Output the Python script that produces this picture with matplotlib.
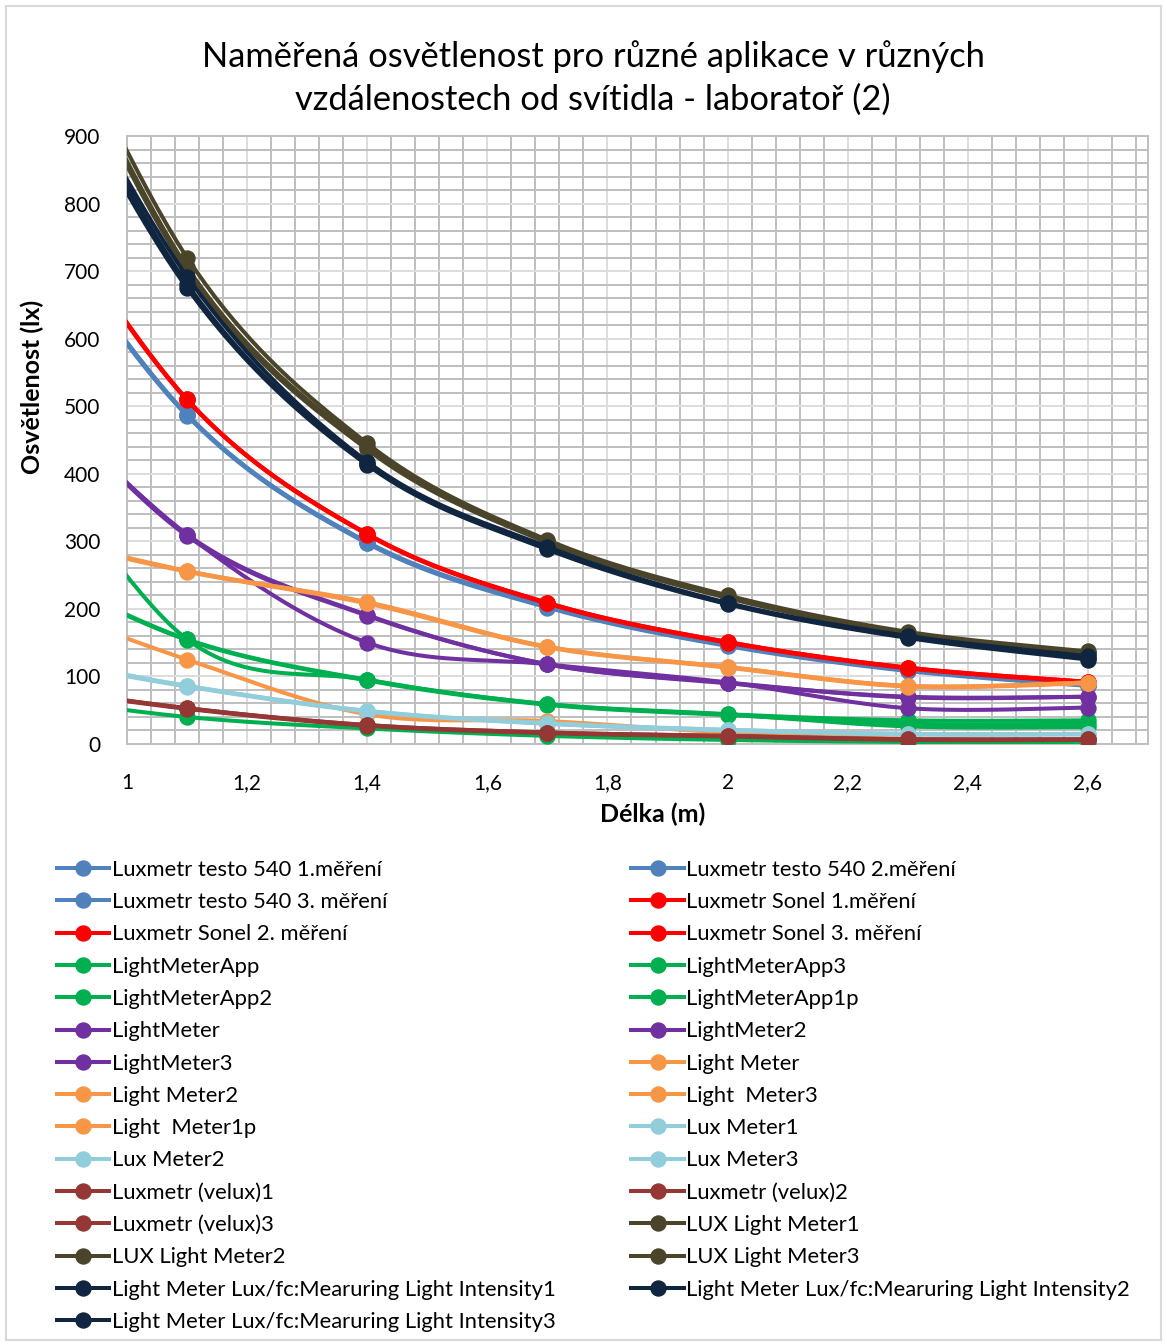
import numpy as np
import matplotlib
matplotlib.use("Agg")
import matplotlib.pyplot as plt
from matplotlib.lines import Line2D
from matplotlib.patches import Rectangle
from matplotlib.ticker import MultipleLocator, FuncFormatter

plt.rcParams['font.family'] = ['Lato', 'DejaVu Sans']

# vzdálenost od svítidla (m); bod 0,8 leží mimo osu (odhad z průběhu křivky u 1,0)
delka = [0.8, 1.1, 1.4, 1.7, 2.0, 2.3, 2.6]

names = [
    "Luxmetr testo 540 1.měření", "Luxmetr testo 540 2.měření", "Luxmetr testo 540 3. měření",
    "Luxmetr Sonel 1.měření", "Luxmetr Sonel 2. měření", "Luxmetr Sonel 3. měření",
    "LightMeterApp", "LightMeterApp3", "LightMeterApp2", "LightMeterApp1p",
    "LightMeter", "LightMeter2", "LightMeter3",
    "Light Meter", "Light Meter2", "Light  Meter3", "Light  Meter1p",
    "Lux Meter1", "Lux Meter2", "Lux Meter3",
    "Luxmetr (velux)1", "Luxmetr (velux)2", "Luxmetr (velux)3",
    "LUX Light Meter1", "LUX Light Meter2", "LUX Light Meter3",
    "Light Meter Lux/fc:Mearuring Light Intensity1",
    "Light Meter Lux/fc:Mearuring Light Intensity2",
    "Light Meter Lux/fc:Mearuring Light Intensity3",
]

testo1 = [844, 487, 298, 203, 146, 109, 87]
testo2 = [839, 486, 297, 202, 145, 108, 86]
testo3 = [845, 488, 299, 204, 147, 110, 88]
sonel1 = [891, 510, 311, 209, 151, 113, 92]
sonel2 = [886, 509, 310, 208, 150, 112, 91]
sonel3 = [888, 510, 311, 209, 151, 113, 92]
lma = [498, 155, 95, 59, 44, 35, 35]
lma3 = [278, 155, 95, 59, 44, 26, 25]
lma2 = [276, 154, 94, 58, 43, 30, 30]
lma1p = [74, 40, 23, 12, 6, 3, 3]
lm = [571, 310, 191, 118, 91, 69, 70]
lm2 = [559, 310, 150, 118, 91, 53, 54]
lm3 = [569, 308, 190, 118, 90, 70, 70]
light_m = [320, 256, 210, 144, 114, 86, 91]
light_m2 = [315, 255, 208, 143, 113, 85, 90]
light_m3 = [316, 256, 209, 144, 114, 86, 91]
light_m1p = [222, 125, 44, 34, 17, 8, 6]
lux1 = [134, 86, 49, 30, 21, 15, 15]
lux2 = [133, 85, 48, 30, 20, 14, 14]
lux3 = [138, 86, 49, 31, 21, 15, 15]
velux1 = [89, 53, 28, 17, 12, 7, 7]
velux2 = [88, 52, 27, 16, 11, 6, 6]
velux3 = [89, 53, 28, 17, 12, 7, 7]
luxlm1 = [1250, 720, 445, 302, 220, 166, 137]
luxlm2 = [1235, 706, 440, 300, 218, 164, 135]
luxlm3 = [1225, 700, 436, 298, 216, 163, 134]
fc1 = [1168, 692, 418, 292, 209, 160, 130]
fc2 = [1163, 681, 415, 290, 208, 158, 127]
fc3 = [1143, 675, 413, 288, 207, 157, 125]

values = [testo1, testo2, testo3, sonel1, sonel2, sonel3, lma, lma3, lma2, lma1p,
          lm, lm2, lm3, light_m, light_m2, light_m3, light_m1p, lux1, lux2, lux3,
          velux1, velux2, velux3, luxlm1, luxlm2, luxlm3, fc1, fc2, fc3]

BLUE, RED, GREEN, PURPLE = '#4F81BD', '#FF0000', '#00B050', '#7030A0'
ORANGE, LBLUE, BROWN, OLIVE, NAVY = '#F79646', '#92CDDC', '#953735', '#4A452A', '#10253F'
colors = [BLUE]*3 + [RED]*3 + [GREEN]*4 + [PURPLE]*3 + [ORANGE]*4 + [LBLUE]*3 + \
         [BROWN]*3 + [OLIVE]*3 + [NAVY]*3


def smooth(x, y, n=40):
    # Excel-like smoothed line: cubic Bezier with tangent (P[i+1]-P[i-1])/6
    pts = np.column_stack([x, y]).astype(float)
    out = [pts[0]]
    t = np.linspace(0, 1, n)[1:, None]
    for i in range(len(pts) - 1):
        p0 = pts[i - 1] if i > 0 else pts[i]
        p1, p2 = pts[i], pts[i + 1]
        p3 = pts[i + 2] if i + 2 < len(pts) else pts[i + 1]
        c1 = p1 + (p2 - p0) / 6
        c2 = p2 - (p3 - p1) / 6
        seg = (1-t)**3*p1 + 3*(1-t)**2*t*c1 + 3*(1-t)*t**2*c2 + t**3*p2
        out.extend(seg)
    return np.array(out)


W, H = 1167, 1344
fig = plt.figure(figsize=(W/100, H/100), dpi=100)
ax = fig.add_axes([127/W, 1-744/H, (1148-127)/W, (744-136)/H])

lw, ms = 2.9, 10.8
handles = []
for k, (name, vals, c) in enumerate(zip(names, values, colors)):
    cur = smooth(delka, vals)
    ax.plot(cur[:, 0], cur[:, 1], color=c, lw=lw, zorder=3+k, solid_capstyle='round')
    ax.plot(delka, vals, 'o', color=c, ms=ms, zorder=3+k)
    handles.append(Line2D([], [], color=c, lw=lw, marker='o', ms=ms, label=name))

ax.set_xlim(1, 2.7)
ax.set_ylim(0, 900)
ax.xaxis.set_major_locator(MultipleLocator(0.2))
ax.xaxis.set_minor_locator(MultipleLocator(0.04))
ax.yaxis.set_major_locator(MultipleLocator(100))
ax.yaxis.set_minor_locator(MultipleLocator(20))
ax.grid(which='minor', color='#BFBFBF', lw=1.4, zorder=0)
ax.grid(which='major', color='#DDDDDD', lw=1.4, zorder=0)
ax.set_axisbelow(True)


def fmt(v, p):
    if abs(v - round(v)) < 1e-9:
        return f"{int(round(v))}"
    return f"{v:.1f}".replace('.', ',')


ax.xaxis.set_major_formatter(FuncFormatter(fmt))
ax.tick_params(which='both', length=0, labelsize=15, colors='black')
ax.tick_params(axis='x', pad=21)
ax.tick_params(axis='y', pad=19)
for s in ax.spines.values():
    s.set_color('#BFBFBF')
    s.set_linewidth(1.4)

ax.set_xlabel('Délka (m)', fontsize=18, fontweight='bold')
ax.set_ylabel('Osvětlenost (lx)', fontsize=18, fontweight='bold')
ax.xaxis.set_label_coords((653-127)/1021, (744-814)/608)
ax.yaxis.set_label_coords((32-127)/1021, (744-387)/608)
ax.xaxis.label.set_va('center')
ax.yaxis.label.set_va('center')

fig.text(593/W, 1-78/H, 'Naměřená osvětlenost pro různé aplikace v různých\nvzdálenostech od svítidla - laboratoř (2)',
         ha='center', va='center', fontsize=24.8, linespacing=1.4)

# legend: Excel fills row by row, matplotlib column by column
order = list(range(0, len(handles), 2)) + list(range(1, len(handles), 2))
fig.legend([handles[i] for i in order], [names[i] for i in order], ncol=2,
           loc='upper left', bbox_to_anchor=(48/W, 1-851/H), frameon=False,
           fontsize=15.8, handlelength=2.4, handletextpad=0.1, labelspacing=0.56,
           columnspacing=3.45, borderaxespad=0)

fig.patches.append(Rectangle((6/W, 4/H), (W-12)/W, (H-10)/H, transform=fig.transFigure,
                             fill=False, ec='#D9D9D9', lw=1.5))

fig.savefig('out.png', dpi=100)
